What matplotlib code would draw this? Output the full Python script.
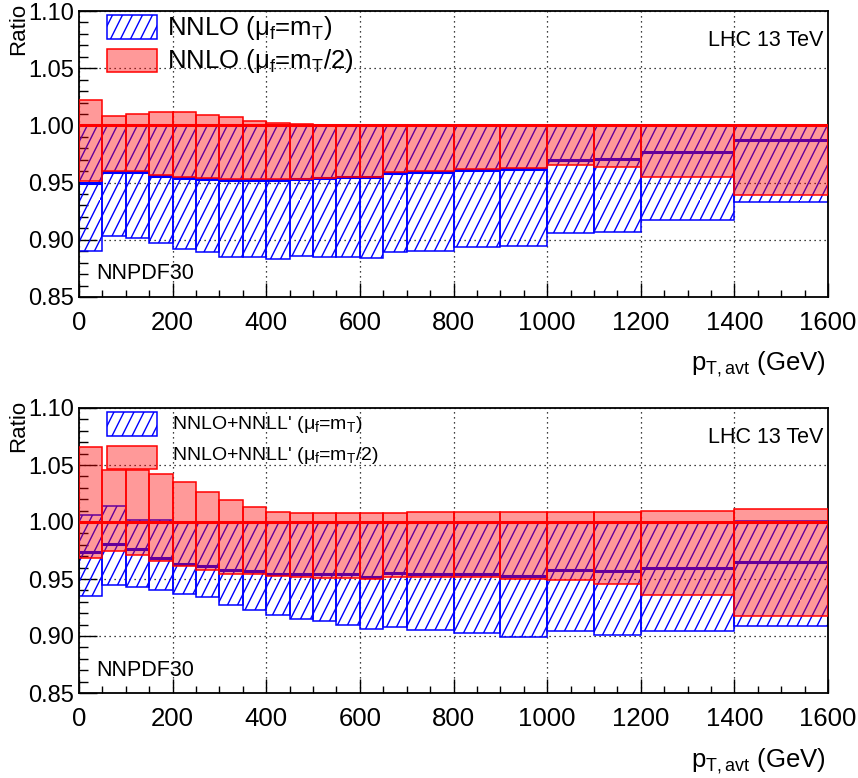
import numpy as np
import matplotlib
matplotlib.use('Agg')
import matplotlib.pyplot as plt
import matplotlib.hatch as mhatch
from matplotlib.path import Path
from matplotlib.patches import Rectangle
from matplotlib.ticker import MultipleLocator

# ---------------- data ----------------
edges = [0, 50, 100, 150, 200, 250, 300, 350, 400, 450, 500, 550, 600, 650, 700,
         800, 900, 1000, 1100, 1200, 1400, 1600]

# top panel: NNLO
blue_lo_top = [0.890, 0.903, 0.902, 0.897, 0.892, 0.889, 0.885, 0.885, 0.883, 0.886, 0.885,
               0.885, 0.884, 0.889, 0.890, 0.894, 0.895, 0.906, 0.907, 0.917, 0.933]
blue_hi_top = [1.000] * 21
blue_c_top = [0.950, 0.959, 0.959, 0.956, 0.954, 0.953, 0.952, 0.952, 0.952, 0.953, 0.954,
              0.955, 0.955, 0.958, 0.959, 0.961, 0.962, 0.970, 0.971, 0.977, 0.987]
red_lo_top = [0.951, 0.960, 0.960, 0.957, 0.955, 0.954, 0.953, 0.953, 0.953, 0.953, 0.954,
              0.955, 0.955, 0.959, 0.960, 0.962, 0.963, 0.965, 0.964, 0.955, 0.939]
red_hi_top = [1.022, 1.008, 1.010, 1.012, 1.012, 1.009, 1.007, 1.004, 1.002, 1.001, 1.000,
              1.000, 1.000, 1.000, 1.000, 1.000, 1.000, 1.000, 1.000, 1.000, 1.000]
red_c_top = [1.000] * 21

# bottom panel: NNLO+NNLL'
blue_lo_bot = [0.935, 0.9445, 0.943, 0.940, 0.937, 0.934, 0.927, 0.923, 0.9185, 0.915, 0.913,
               0.910, 0.906, 0.908, 0.905, 0.9026, 0.899, 0.904, 0.901, 0.904, 0.909]
blue_hi_bot = [1.006, 1.014, 1.002, 1.0015, 1.000, 1.000, 1.000, 1.000, 1.000, 1.000, 1.000,
               1.000, 1.000, 1.000, 1.000, 1.000, 1.000, 1.000, 1.000, 1.000, 1.001]
blue_c_bot = [0.974, 0.981, 0.976, 0.9685, 0.963, 0.961, 0.9575, 0.9566, 0.9546, 0.954, 0.9546,
              0.954, 0.952, 0.955, 0.954, 0.954, 0.953, 0.958, 0.957, 0.9595, 0.965]
red_lo_bot = [0.9685, 0.975, 0.971, 0.9656, 0.961, 0.958, 0.9546, 0.954, 0.9526, 0.9517, 0.951,
              0.951, 0.9497, 0.9517, 0.9517, 0.9517, 0.950, 0.9488, 0.946, 0.9364, 0.9174]
red_hi_bot = [1.066, 1.046, 1.046, 1.042, 1.035, 1.026, 1.019, 1.013, 1.009, 1.008, 1.008,
              1.008, 1.008, 1.008, 1.0087, 1.0087, 1.0087, 1.009, 1.009, 1.010, 1.011]
red_c_bot = [1.000] * 21

xticks = [0, 200, 400, 600, 800, 1000, 1200, 1400, 1600]
xtick_labels = ['0', '200', '400', '600', '800', '1000', '1200', '1400', '1600']
yticks = [0.85, 0.90, 0.95, 1.00, 1.05, 1.10]
ytick_labels = ['0.85', '0.90', '0.95', '1.00', '1.05', '1.10']

legend_top = [r'NNLO ($\mu_{f}$=m$_{T}$)', r'NNLO ($\mu_{f}$=m$_{T}$/2)']
legend_bot = [r"NNLO+NNLL' ($\mu_{f}$=m$_{T}$)", r"NNLO+NNLL' ($\mu_{f}$=m$_{T}$/2)"]


# ---------------- steep ROOT-like hatch ----------------
class SteepHatch(mhatch.HatchPatternBase):
    def __init__(self, hatch, density):
        n = hatch.count('/') * 10
        segs = []
        if n:
            for k in range(-n // 2 + 1, n):
                x0 = k / n
                ya = max(0.0, -2 * x0)
                yb = min(1.0, 2 * (1 - x0))
                if yb - ya > 1e-9:
                    segs.append(((x0 + ya / 2, ya), (x0 + yb / 2, yb)))
        self.segs = segs
        self.num_vertices = 2 * len(segs)

    def set_vertices_and_codes(self, vertices, codes):
        for i, (a, b) in enumerate(self.segs):
            vertices[2 * i] = a
            vertices[2 * i + 1] = b
            codes[2 * i] = Path.MOVETO
            codes[2 * i + 1] = Path.LINETO


mhatch._hatch_types = [t for t in mhatch._hatch_types
                       if t is not mhatch.NorthEastHatch] + [SteepHatch]

plt.rcParams['font.family'] = ['Liberation Sans', 'DejaVu Sans']
plt.rcParams['mathtext.fontset'] = 'custom'
plt.rcParams['mathtext.rm'] = 'Liberation Sans'
plt.rcParams['mathtext.it'] = 'Liberation Sans'
plt.rcParams['mathtext.sf'] = 'Liberation Sans'
plt.rcParams['mathtext.bf'] = 'Liberation Sans:bold'
plt.rcParams['hatch.linewidth'] = 1.0

W, H = 858, 778
fig = plt.figure(figsize=(W / 100, H / 100), dpi=100)


def fx(px):
    return px / W


def fy(py):
    return 1 - py / H


RED_FILL = (1, 0, 0, 0.4)


def panel(ax_rect, blo, bhi, bc, rlo, rhi, rc, ytop, legend):
    ax = fig.add_axes(ax_rect)
    e = np.array(edges, float)
    left, right, w = e[:-1], e[1:], np.diff(e)
    blo, bhi, bc = map(np.array, (blo, bhi, bc))
    rlo, rhi, rc = map(np.array, (rlo, rhi, rc))
    ax.bar(left, bhi - blo, bottom=blo, width=w, align='edge', facecolor='none',
           edgecolor='blue', hatch='/', linewidth=1.1, zorder=2)
    ax.hlines(bc, left, right, colors='blue', linewidth=2.2, zorder=2.5)
    ax.bar(left, rhi - rlo, bottom=rlo, width=w, align='edge', facecolor=RED_FILL,
           edgecolor='red', linewidth=1.1, zorder=3)
    ax.hlines(rc, left, right, colors='red', linewidth=2.2, zorder=3.5)

    ax.set_xlim(0, 1600)
    ax.set_ylim(0.85, 1.10)
    ax.set_xticks(xticks)
    ax.set_xticklabels(xtick_labels, fontsize=18.5)
    ax.set_yticks(yticks)
    ax.set_yticklabels(ytick_labels, fontsize=17)
    ax.xaxis.set_minor_locator(MultipleLocator(50))
    ax.yaxis.set_minor_locator(MultipleLocator(0.01))
    ax.tick_params(which='both', direction='in', top=False, right=False, width=1.0)
    ax.tick_params(axis='y', which='major', length=13, pad=3.5)
    ax.tick_params(axis='y', which='minor', length=6.5)
    ax.tick_params(axis='x', which='major', length=10, pad=10)
    ax.tick_params(axis='x', which='minor', length=5)
    ax.grid(True, which='major', linestyle=(0, (1, 3)), color='black', linewidth=0.9)
    ax.set_axisbelow(True)
    for s in ax.spines.values():
        s.set_linewidth(1.3)

    # legend
    big = legend is legend_top
    fig.add_artist(Rectangle((fx(107), fy(ytop + 28)), fx(50), 24 / H,
                             transform=fig.transFigure, facecolor='white',
                             edgecolor='blue', hatch='/', linewidth=1.1))
    fig.add_artist(Rectangle((fx(107), fy(ytop + 61)), fx(50), 23 / H,
                             transform=fig.transFigure, facecolor=RED_FILL,
                             edgecolor='red', linewidth=1.1))
    if big:
        fig.text(fx(167), fy(ytop + 24), legend[0], fontsize=18.5, va='baseline')
        fig.text(fx(167), fy(ytop + 57), legend[1], fontsize=18.5, va='baseline')
    else:
        fig.text(fx(172), fy(ytop + 21), legend[0], fontsize=14, va='baseline')
        fig.text(fx(172), fy(ytop + 52), legend[1], fontsize=14, va='baseline')

    fig.text(fx(823), fy(ytop + 35), 'LHC 13 TeV', fontsize=15.5, ha='right',
             va='baseline')
    fig.text(fx(96), fy(ytop + 268), 'NNPDF30', fontsize=15.5, ha='left',
             va='baseline')
    fig.text(fx(19), fy(ytop - 8), 'Ratio', fontsize=16, rotation=90, ha='center',
             va='top')
    fig.text(fx(826), fy(ytop + 359), r'p$_{\mathregular{T,avt}}$ (GeV)', fontsize=18.5,
             ha='right', va='baseline')
    return ax


panel([fx(79), fy(297), fx(828 - 79), 286 / H], blue_lo_top, blue_hi_top, blue_c_top,
      red_lo_top, red_hi_top, red_c_top, 11, legend_top)
panel([fx(79), fy(693), fx(828 - 79), 285 / H], blue_lo_bot, blue_hi_bot, blue_c_bot,
      red_lo_bot, red_hi_bot, red_c_bot, 408, legend_bot)

fig.savefig('out.png', dpi=100)
